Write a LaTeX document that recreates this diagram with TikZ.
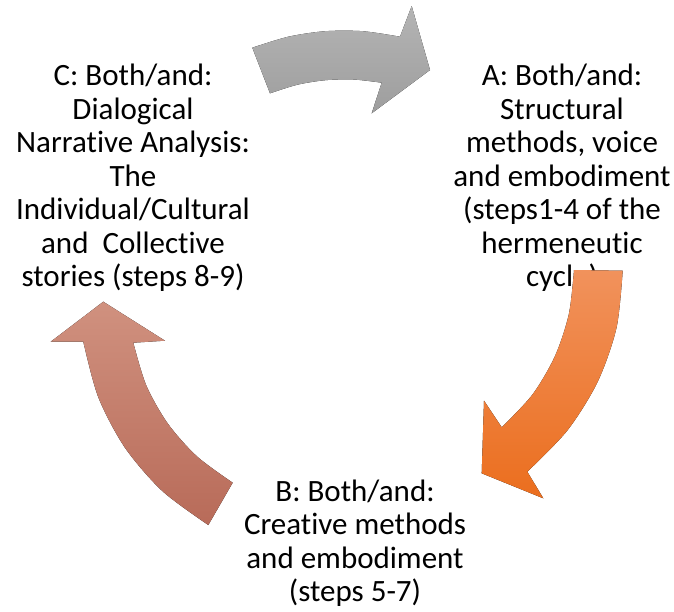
\documentclass[tikz,border=0pt]{standalone}
\usepackage{fontspec}
\setmainfont{Carlito}[Ligatures=NoCommon]
\definecolor{grayTop}{HTML}{B4B4B4}
\definecolor{grayBot}{HTML}{9E9E9E}
\definecolor{orangeTop}{HTML}{F1925C}
\definecolor{orangeBot}{HTML}{EB6E1E}
\definecolor{roseTop}{HTML}{D0917F}
\definecolor{roseBot}{HTML}{B86B59}
\begin{document}
\begin{tikzpicture}[x=1pt,y=-1pt,
  lbl/.style={align=center, inner sep=0pt, text=black,
              font=\fontsize{31}{33.5}\selectfont}]
\useasboundingbox (0,0) rectangle (674,611);

% stage texts
\node[lbl] (C) at (133,178) {C: Both/and:\\Dialogical\\Narrative Analysis:\\The\\Individual/Cultural\\and\ \ Collective\\stories (steps 8-9)};
\node[lbl] (A) at (562,178) {A: Both/and:\\Structural\\methods, voice\\and embodiment\\(steps1-4 of the\\hermeneutic\\cycle)};
\node[lbl] (B) at (355,543) {B: Both/and:\\Creative methods\\and embodiment\\(steps 5-7)};

% curved arrow C -> A
\fill[top color=grayTop, bottom color=grayBot]
  (252.3,47.7) -- plot[smooth] coordinates {(252.3,47.7) (288.4,36.7) (325.2,31.2) (362.9,31.2) (400,36.7)}
  -- (411.7,6) -- (430,70) -- (371.7,113.3) -- (381.7,82.7)
  -- plot[smooth] coordinates {(381.7,82.7) (353.6,79.5) (325.3,80.2) (297.4,84.7) (270,93.3)}
  -- cycle;

% curved arrow A -> B
\fill[top color=orangeTop, bottom color=orangeBot]
  (622.7,270.7) -- plot[smooth] coordinates {(622.7,270.7) (616.5,327.8) (597.6,381.9) (567.3,430.5) (527.3,471.7)}
  -- (543.3,498.3) -- (481.7,473.3) -- (484,400.7) -- (501.7,427.3)
  -- plot[smooth] coordinates {(501.7,427.3) (532.2,394.9) (554.8,356.5) (568.8,314.3) (574,270)}
  -- cycle;

% curved arrow B -> C
\fill[top color=roseTop, bottom color=roseBot]
  (208.3,525) -- plot[smooth] coordinates {(208.3,525) (162.3,491.0) (124.9,447.6) (98.2,397.0) (83.3,341.7)}
  -- (50.7,341.7) -- (103.3,301.7) -- (165,340.7) -- (133.3,342.7)
  -- plot[smooth] coordinates {(133.3,342.7) (146.1,385.0) (167.7,423.4) (197.0,456.4) (232.7,482.7)}
  -- cycle;
\end{tikzpicture}
\end{document}
